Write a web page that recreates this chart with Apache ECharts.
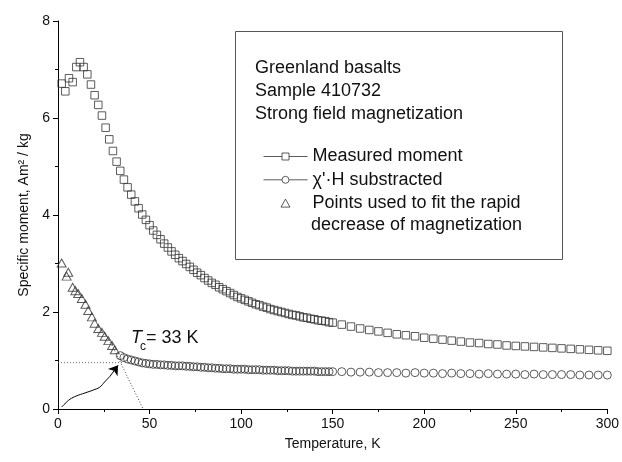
<!DOCTYPE html>
<html>
<head>
<meta charset="utf-8">
<script src="https://cdn.jsdelivr.net/npm/echarts@6/dist/echarts.min.js"></script>
<style>
  html, body { margin: 0; padding: 0; background: #fff; }
  #chart { width: 622px; height: 462px; }
</style>
</head>
<body>
<div id="chart"></div>
<script>
// measured moment (squares)
const measuredT = [
  2, 4, 6, 8, 10, 12, 14, 16, 18, 20, 22, 24, 26, 28, 30, 32, 34, 36, 38, 40,
  42, 44, 46, 48, 50, 52, 54, 56, 58, 60, 62, 64, 66, 68, 70, 72, 74, 76, 78, 80,
  82, 84, 86, 88, 90, 92, 94, 96, 98, 100, 102, 104, 106, 108, 110, 112, 114, 116, 118, 120,
  122, 124, 126, 128, 130, 132, 134, 136, 138, 140, 142, 144, 146, 148, 150,
  155, 160, 165, 170, 175, 180, 185, 190, 195, 200, 205, 210, 215, 220, 225,
  230, 235, 240, 245, 250, 255, 260, 265, 270, 275, 280, 285, 290, 295, 300
]
const measuredM = [
  6.71, 6.55, 6.82, 6.74, 7.05, 7.15, 7.05, 6.90, 6.69, 6.47, 6.27, 6.05, 5.80, 5.56, 5.32, 5.10, 4.91, 4.73, 4.57, 4.42,
  4.28, 4.14, 4.01, 3.90, 3.79, 3.68, 3.59, 3.50, 3.41, 3.33, 3.25, 3.18, 3.11, 3.05, 2.99, 2.93, 2.87, 2.81, 2.76, 2.70,
  2.65, 2.60, 2.56, 2.51, 2.47, 2.43, 2.39, 2.35, 2.31, 2.28, 2.25, 2.22, 2.19, 2.16, 2.14, 2.11, 2.09, 2.06, 2.04, 2.02,
  2.00, 1.98, 1.96, 1.94, 1.93, 1.91, 1.89, 1.88, 1.86, 1.85, 1.83, 1.82, 1.81, 1.79, 1.78,
  1.74, 1.70, 1.66, 1.63, 1.60, 1.57, 1.54, 1.52, 1.50, 1.47, 1.45, 1.43, 1.41, 1.39, 1.37,
  1.36, 1.34, 1.33, 1.31, 1.30, 1.29, 1.28, 1.27, 1.26, 1.25, 1.24, 1.23, 1.22, 1.21, 1.20
]

// chi'H subtracted (circles)
const subtractedT = [
  34, 36, 38, 40, 42, 44, 46, 48, 50, 52, 54, 56, 58, 60, 62, 64, 66, 68, 70, 72,
  74, 76, 78, 80, 82, 84, 86, 88, 90, 92, 94, 96, 98, 100, 102, 104, 106, 108, 110, 112,
  114, 116, 118, 120, 122, 124, 126, 128, 130, 132, 134, 136, 138, 140, 142, 144, 146, 148, 150,
  155, 160, 165, 170, 175, 180, 185, 190, 195, 200, 205, 210, 215, 220, 225,
  230, 235, 240, 245, 250, 255, 260, 265, 270, 275, 280, 285, 290, 295, 300
]
const subtractedM = [
  1.10, 1.06, 1.03, 1.01, 0.99, 0.97, 0.95, 0.94, 0.93, 0.92, 0.92, 0.91, 0.91, 0.90, 0.90, 0.89, 0.89, 0.89, 0.88, 0.88,
  0.87, 0.87, 0.86, 0.86, 0.85, 0.85, 0.84, 0.84, 0.83, 0.83, 0.83, 0.82, 0.82, 0.82, 0.82, 0.81, 0.81, 0.81, 0.81, 0.80,
  0.80, 0.80, 0.80, 0.79, 0.79, 0.79, 0.79, 0.78, 0.78, 0.78, 0.78, 0.78, 0.78, 0.78, 0.77, 0.77, 0.77, 0.77, 0.77,
  0.77, 0.76, 0.76, 0.76, 0.75, 0.75, 0.75, 0.74, 0.75, 0.74, 0.74, 0.73, 0.74, 0.73, 0.73,
  0.72, 0.73, 0.72, 0.72, 0.72, 0.71, 0.72, 0.71, 0.71, 0.71, 0.71, 0.70, 0.70, 0.70, 0.70
]

// points used for the fit (triangles)
const fitPtsT = [2, 4.7, 5.6, 8, 9.5, 11, 13, 15, 16.5, 18.5, 20, 22, 24, 25.5, 27.5, 29.5, 31]
const fitPtsM = [3.01, 2.74, 2.82, 2.51, 2.44, 2.38, 2.28, 2.16, 2.03, 1.90, 1.77, 1.66, 1.58, 1.50, 1.41, 1.31, 1.22]

// dotted construction lines
const plateauT = [0, 35]
const plateauM = [0.955, 0.955]
const slopeT = [28, 46.5]
const slopeM = [1.43, 0]

// curved arrow pointing at Tc
const arrowT = [2, 3.8, 6.5, 10.1, 14.7, 19.2, 22.8, 25.5, 28.3]
const arrowM = [0.04, 0.11, 0.2, 0.27, 0.33, 0.39, 0.45, 0.56, 0.67]
const arrowTip = [32.8, 0.9]

const headerLines = ['Greenland basalts', 'Sample 410732', 'Strong field magnetization']
const legendNames = ['Measured moment', "\u03c7'\u00b7H substracted", 'Points used to fit the rapid']
const legendExtra = 'decrease of magnetization'

const zip = (xs, ys) => xs.map((x, i) => [x, ys[i]])

const FONT = 'Liberation Sans, Arial, sans-serif'
const INK = '#111'
const MARK = '#333'

const chart = echarts.init(document.getElementById('chart'), null, { renderer: 'canvas' })

const hollow = {
  color: 'transparent',
  borderColor: MARK,
  borderWidth: 1
}

const option = {
  animation: false,
  backgroundColor: '#fff',
  textStyle: { fontFamily: FONT },
  grid: {
    left: 58,
    right: 12,
    top: 21,
    bottom: 53
  },
  xAxis: {
    type: 'value',
    min: 0,
    max: 300,
    interval: 50,
    name: 'Temperature, K',
    nameLocation: 'middle',
    nameGap: 28,
    nameTextStyle: { fontSize: 14, color: INK, fontFamily: FONT },
    axisLine: { lineStyle: { color: '#000', width: 1 } },
    axisTick: { show: true, inside: false, length: 5, lineStyle: { color: '#000' } },
    minorTick: { show: true, splitNumber: 2, length: 3, lineStyle: { color: '#000' } },
    axisLabel: { fontSize: 14, color: INK, margin: 8, fontFamily: FONT },
    splitLine: { show: false }
  },
  yAxis: {
    type: 'value',
    min: 0,
    max: 8,
    interval: 2,
    name: 'Specific moment, Am\u00b2 / kg',
    nameLocation: 'middle',
    nameGap: 27,
    nameTextStyle: { fontSize: 14, color: INK, fontFamily: FONT },
    axisLine: { show: true, lineStyle: { color: '#000', width: 1 } },
    axisTick: { show: true, inside: false, length: 5, lineStyle: { color: '#000' } },
    minorTick: { show: true, splitNumber: 2, length: 3, lineStyle: { color: '#000' } },
    axisLabel: { fontSize: 14, color: INK, margin: 8, fontFamily: FONT },
    splitLine: { show: false }
  },
  legend: {
    orient: 'vertical',
    left: 263,
    top: 145,
    padding: 0,
    itemWidth: 44,
    itemHeight: 8,
    itemGap: 0.3,
    selectedMode: false,
    textStyle: { fontSize: 18, color: INK, fontFamily: FONT, lineHeight: 23 },
    itemStyle: { color: 'transparent', borderColor: MARK, borderWidth: 1 },
    data: [
      { name: legendNames[0], icon: 'path://M0,4H18.5M18.5,0.5H25.5V7.5H18.5ZM25.5,4H44' },
      { name: legendNames[1], icon: 'path://M0,4H18.5M18.5,4A3.5,3.5,0,1,1,25.5,4A3.5,3.5,0,1,1,18.5,4ZM25.5,4H44' },
      { name: legendNames[2], icon: 'path://M0,8L4.5,0L9,8Z' }
    ]
  },
  graphic: [
    {
      type: 'rect',
      shape: { x: 235.5, y: 31.5, width: 327, height: 228 },
      style: { fill: 'none', stroke: '#555', lineWidth: 1 },
      silent: true
    },
    {
      type: 'text',
      x: 255,
      y: 57,
      style: {
        text: headerLines.join('\n'),
        font: '18px ' + FONT,
        lineHeight: 22.7,
        fill: INK
      },
      silent: true
    },
    {
      type: 'text',
      x: 311,
      y: 225,
      style: {
        text: legendExtra,
        font: '18px ' + FONT,
        verticalAlign: 'middle',
        fill: INK
      },
      silent: true
    },
    {
      type: 'text',
      x: 131,
      y: 338,
      style: { text: 'T', font: 'italic 18px ' + FONT, verticalAlign: 'middle', fill: INK },
      silent: true
    },
    {
      type: 'text',
      x: 140,
      y: 347,
      style: { text: 'c', font: '12px ' + FONT, verticalAlign: 'middle', fill: INK },
      silent: true
    },
    {
      type: 'text',
      x: 146,
      y: 338,
      style: { text: '= 33 K', font: '18px ' + FONT, verticalAlign: 'middle', fill: INK },
      silent: true
    }
  ],
  series: [
    {
      name: 'plateau',
      type: 'line',
      data: zip(plateauT, plateauM),
      symbol: 'none',
      silent: true,
      lineStyle: { color: '#666', width: 1, type: [1, 2] },
      z: 1
    },
    {
      name: 'slope',
      type: 'line',
      data: zip(slopeT, slopeM),
      symbol: 'none',
      silent: true,
      lineStyle: { color: '#444', width: 1, type: [1, 2] },
      z: 1
    },
    {
      name: legendNames[0],
      type: 'scatter',
      data: zip(measuredT, measuredM),
      symbol: 'rect',
      symbolSize: 7.5,
      itemStyle: hollow,
      z: 3
    },
    {
      name: legendNames[1],
      type: 'scatter',
      data: zip(subtractedT, subtractedM),
      symbol: 'circle',
      symbolSize: 8,
      itemStyle: hollow,
      z: 3
    },
    {
      name: legendNames[2],
      type: 'scatter',
      data: zip(fitPtsT, fitPtsM),
      symbol: 'triangle',
      symbolSize: [9, 8],
      itemStyle: hollow,
      z: 3
    },
    {
      name: 'arrow',
      type: 'line',
      data: zip(arrowT, arrowM),
      smooth: 0.4,
      symbol: 'none',
      silent: true,
      lineStyle: { color: '#000', width: 1 },
      z: 4,
      markLine: {
        silent: true,
        animation: false,
        symbol: ['none', 'arrow'],
        symbolSize: 9,
        label: { show: false },
        lineStyle: { color: '#000', width: 1, type: 'solid' },
        emphasis: { disabled: true },
        data: [[
          { coord: [arrowT[arrowT.length - 1], arrowM[arrowM.length - 1]] },
          { coord: arrowTip }
        ]]
      }
    }
  ]
}

chart.setOption(option)
</script>
</body>
</html>
